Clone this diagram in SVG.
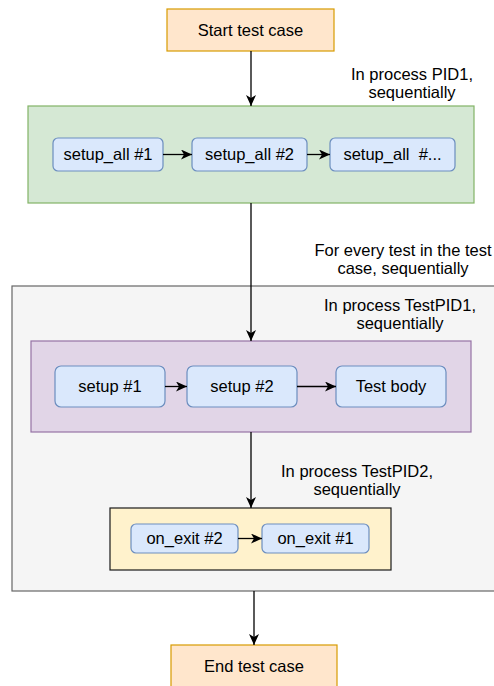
<svg xmlns="http://www.w3.org/2000/svg" width="494" height="686" viewBox="0 0 494 686">
<defs>
<style>
text{font-family:"Liberation Sans",Arial,Helvetica,sans-serif;font-size:16.5px;fill:#000;text-anchor:middle}
.blue{fill:#dae8fc;stroke:#6c8ebf;stroke-width:1.2}
.term{fill:#ffe6cc;stroke:#d79b00;stroke-width:1.2}
.edge{fill:none;stroke:#000;stroke-width:1.3;marker-end:url(#arr)}
</style>
<marker id="arr" markerUnits="userSpaceOnUse" markerWidth="12" markerHeight="10" refX="11" refY="5" orient="auto">
<path d="M0,0 L11,5 L0,10 L3,5 Z" fill="#000"/>
</marker>
</defs>
<rect width="494" height="686" fill="#fff"/>
<g id="testgroup">
<rect x="12" y="286" width="490" height="305" fill="#f5f5f5" stroke="#666666" stroke-width="1.2"/>
</g>
<g id="start">
<rect class="term" x="167" y="9" width="167" height="42"/>
<text x="250.5" y="36">Start test case</text>
</g>
<g id="setupall-group">
<rect x="28" y="106" width="446" height="97" fill="#d5e8d4" stroke="#82b366" stroke-width="1.2"/>
</g>
<g id="setup_all_1">
<rect class="blue" x="53" y="138" width="110" height="33" rx="5"/>
<text x="108" y="160">setup_all #1</text>
</g>
<g id="setup_all_2">
<rect class="blue" x="192" y="138" width="115" height="33" rx="5"/>
<text x="249.5" y="160">setup_all #2</text>
</g>
<g id="setup_all_n">
<rect class="blue" x="330" y="138" width="125" height="33" rx="5"/>
<text x="392.5" y="160" xml:space="preserve">setup_all  #...</text>
</g>
<g id="label-pid1">
<text x="412" y="80">In process PID1,</text>
<text x="412" y="98">sequentially</text>
</g>
<g id="label-every">
<text x="403" y="256">For every test in the test</text>
<text x="403" y="274">case, sequentially</text>
</g>
<g id="label-testpid1">
<text x="400" y="311">In process TestPID1,</text>
<text x="400" y="329">sequentially</text>
</g>
<g id="setup-group">
<rect x="31" y="341" width="440" height="91" fill="#e1d5e7" stroke="#9673a6" stroke-width="1.2"/>
</g>
<g id="setup_1">
<rect class="blue" x="55" y="366" width="110" height="41" rx="6"/>
<text x="110" y="392">setup #1</text>
</g>
<g id="setup_2">
<rect class="blue" x="187" y="366" width="110" height="41" rx="6"/>
<text x="242" y="392">setup #2</text>
</g>
<g id="test_body">
<rect class="blue" x="336" y="366" width="110" height="41" rx="6"/>
<text x="391" y="392">Test body</text>
</g>
<g id="label-testpid2">
<text x="357" y="477">In process TestPID2,</text>
<text x="357" y="495">sequentially</text>
</g>
<g id="exit-group">
<rect x="110" y="508" width="281" height="62" fill="#fff2cc" stroke="#1a1a1a" stroke-width="1.2"/>
</g>
<g id="on_exit_2">
<rect class="blue" x="131" y="524" width="107" height="29" rx="5"/>
<text x="184.5" y="544">on_exit #2</text>
</g>
<g id="on_exit_1">
<rect class="blue" x="262" y="524" width="107" height="29" rx="5"/>
<text x="315.5" y="544">on_exit #1</text>
</g>
<g id="end">
<rect class="term" x="171" y="645" width="166" height="45"/>
<text x="254" y="672">End test case</text>
</g>
<g id="connectors">
<path class="edge" d="M251,51 L251,106"/>
<path class="edge" d="M163,154.5 L192,154.5"/>
<path class="edge" d="M307,154.5 L330,154.5"/>
<path class="edge" d="M251,203 L251,341"/>
<path class="edge" d="M165,386.5 L187,386.5"/>
<path class="edge" d="M297,386.5 L336,386.5"/>
<path class="edge" d="M251,432 L251,508"/>
<path class="edge" d="M238,538.5 L262,538.5"/>
<path class="edge" d="M254,591 L254,645"/>
</g>
</svg>
